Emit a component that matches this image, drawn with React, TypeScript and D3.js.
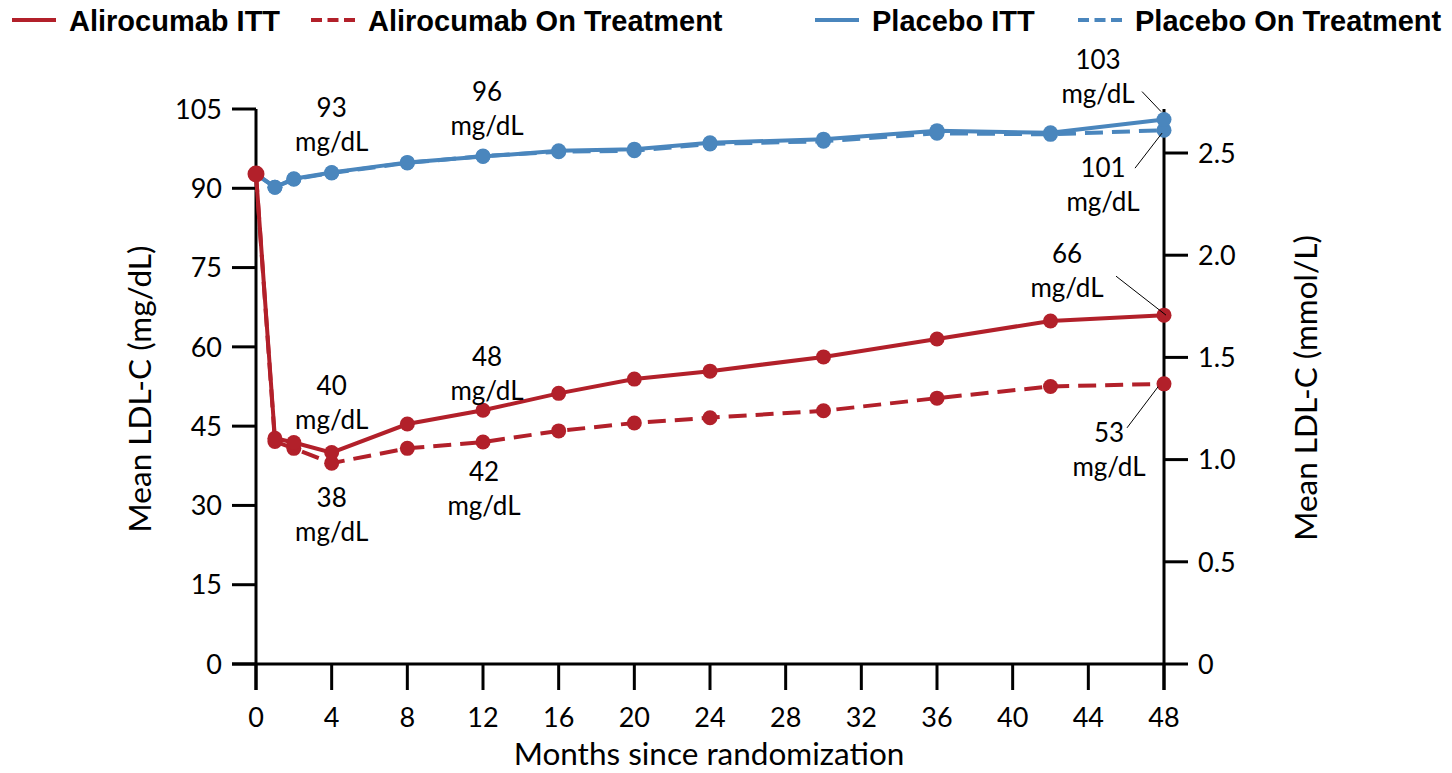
import React from "react";
import * as d3 from "d3";

// Visit months (x) shared by every series
const months = [0, 1, 2, 4, 8, 12, 16, 20, 24, 30, 36, 42, 48];

// Mean LDL-C, mg/dL
const alirocumabITT = [92.7, 42.7, 41.9, 40, 45.4, 48, 51.2, 53.9, 55.4, 58.1, 61.5, 64.9, 66];
const alirocumabOnTreatment = [92.7, 42.1, 40.8, 38, 40.8, 42, 44.1, 45.6, 46.6, 47.9, 50.3, 52.5, 53];
const placeboITT = [92.7, 90.2, 91.8, 93, 94.9, 96, 97.1, 97.4, 98.6, 99.3, 100.9, 100.5, 103];
const placeboOnTreatment = [92.7, 90.2, 91.7, 92.9, 94.8, 96.1, 96.9, 97.1, 98.4, 98.9, 100.4, 100.2, 101];

// Axis ticks
const leftTicks = [0, 15, 30, 45, 60, 75, 90, 105];
const rightTicks = [0, 0.5, 1.0, 1.5, 2.0, 2.5];
const xTicks = [0, 4, 8, 12, 16, 20, 24, 28, 32, 36, 40, 44, 48];

const MG_PER_MMOL = 38.67;

const RED = "#B2202A";
const BLUE = "#4A86BD";

type Series = { key: string; name: string; values: number[]; color: string; dashed: boolean };

const series: Series[] = [
  { key: "pOT", name: "Placebo On Treatment", values: placeboOnTreatment, color: BLUE, dashed: true },
  { key: "pITT", name: "Placebo ITT", values: placeboITT, color: BLUE, dashed: false },
  { key: "aOT", name: "Alirocumab On Treatment", values: alirocumabOnTreatment, color: RED, dashed: true },
  { key: "aITT", name: "Alirocumab ITT", values: alirocumabITT, color: RED, dashed: false },
];

// Value callouts: which point, where the text block sits, optional leader line
type Note = { key: string; i: number; dx: number; dy: number; leader?: [number, number, number, number] };
const notes: Note[] = [
  { key: "pITT", i: 3, dx: 0, dy: -65 },
  { key: "pITT", i: 5, dx: 4, dy: -65 },
  { key: "pITT", i: 12, dx: -66, dy: -60, leader: [-22, -28, -3, -8] },
  { key: "pOT", i: 12, dx: -61, dy: 37, leader: [-29, 38, -2, 3] },
  { key: "aITT", i: 3, dx: 0, dy: -67 },
  { key: "aOT", i: 3, dx: 0, dy: 34 },
  { key: "aITT", i: 5, dx: 4, dy: -54 },
  { key: "aOT", i: 5, dx: 1, dy: 30 },
  { key: "aITT", i: 12, dx: -97, dy: -62, leader: [-48, -39, 2, 0] },
  { key: "aOT", i: 12, dx: -55, dy: 49, leader: [-37, 44, -6, 3] },
];

const legendItems = [
  { name: "Alirocumab ITT", color: RED, dashed: false, x: 12 },
  { name: "Alirocumab On Treatment", color: RED, dashed: true, x: 311 },
  { name: "Placebo ITT", color: BLUE, dashed: false, x: 815 },
  { name: "Placebo On Treatment", color: BLUE, dashed: true, x: 1078 },
];

const W = 1452;
const H = 773;
const FONT = "Lato, 'Open Sans', sans-serif";

export default function App() {
  const x = d3.scaleLinear().domain([0, 48]).range([256, 1164]);
  const y = d3.scaleLinear().domain([0, 105]).range([664, 109]);
  const yR = d3.scaleLinear().domain([0, 105 / MG_PER_MMOL]).range([664, 109]);

  const line = d3
    .line<number>()
    .x((_, i) => x(months[i]))
    .y((v) => y(v));

  const byKey: Record<string, Series> = {};
  series.forEach((s) => (byKey[s.key] = s));

  const tickLen = 24;
  const axisW = 3;

  return (
    <svg
      width={W}
      height={H}
      viewBox={`0 0 ${W} ${H}`}
      style={{ position: "absolute", left: 0, top: 0, background: "#fff" }}
      fontFamily={FONT}
    >
      <rect width={W} height={H} fill="#fff" />

      {/* legend */}
      <g fontFamily="'Liberation Sans', Arial, sans-serif" fontWeight="bold" fontSize={29}>
        {legendItems.map((d) => (
          <g key={d.name}>
            <line
              x1={d.x}
              x2={d.x + 44}
              y1={20}
              y2={20}
              stroke={d.color}
              strokeWidth={4}
              strokeDasharray={d.dashed ? "11,5.5" : undefined}
            />
            <text x={d.x + 57} y={30.5} fill="#000">
              {d.name}
            </text>
          </g>
        ))}
      </g>

      {/* left axis */}
      <g stroke="#000" strokeWidth={axisW}>
        <line x1={256} x2={256} y1={y(105)} y2={664 + 26} />
        {leftTicks.map((t) => (
          <line key={t} x1={256 - tickLen} x2={256} y1={y(t)} y2={y(t)} />
        ))}
      </g>
      <g fontSize={27} textAnchor="end">
        {leftTicks.map((t) => (
          <text key={t} x={222} y={y(t)} dy="0.36em">
            {t}
          </text>
        ))}
      </g>

      {/* bottom axis */}
      <g stroke="#000" strokeWidth={axisW}>
        <line x1={256 - tickLen} x2={x(48)} y1={664} y2={664} />
        {xTicks.map((t) => (
          <line key={t} x1={x(t)} x2={x(t)} y1={664} y2={664 + 26} />
        ))}
      </g>
      <g fontSize={27} textAnchor="middle">
        {xTicks.map((t) => (
          <text key={t} x={x(t)} y={717} dy="0.36em">
            {t}
          </text>
        ))}
      </g>

      {/* right axis */}
      <g stroke="#000" strokeWidth={axisW}>
        <line x1={1164} x2={1164} y1={yR.range()[1]} y2={664 + 26} />
        {rightTicks.map((t) => (
          <line key={t} x1={1164} x2={1164 + tickLen} y1={yR(t)} y2={yR(t)} />
        ))}
      </g>
      <g fontSize={27} textAnchor="start">
        {rightTicks.map((t) => (
          <text key={t} x={1198} y={yR(t)} dy="0.36em">
            {t === 0 ? "0" : d3.format(".1f")(t)}
          </text>
        ))}
      </g>

      {/* axis titles */}
      <text x={709} y={754} dy="0.36em" fontSize={31.5} textAnchor="middle">
        Months since randomization
      </text>
      <text
        transform={`translate(140,389) rotate(-90)`}
        dy="0.36em"
        fontSize={31.5}
        textAnchor="middle"
      >
        Mean LDL-C (mg/dL)
      </text>
      <text
        transform={`translate(1306,388) rotate(-90)`}
        dy="0.36em"
        fontSize={31.5}
        textAnchor="middle"
      >
        Mean LDL-C (mmol/L)
      </text>

      {/* series lines and markers */}
      {series.map((s) => (
        <g key={s.key}>
          <path
            d={line(s.values) || ""}
            fill="none"
            stroke={s.color}
            strokeWidth={4}
            strokeDasharray={s.dashed ? "18,9" : undefined}
          />
          {s.values.map((v, i) => (
            <circle key={i} cx={x(months[i])} cy={y(v)} r={7.5} fill={s.color} />
          ))}
        </g>
      ))}
      {/* shared baseline point */}
      <circle cx={x(months[0])} cy={y(alirocumabITT[0])} r={8.5} fill={RED} />

      {/* value callouts */}
      <g fontSize={26} textAnchor="middle">
        {notes.map((n, k) => {
          const s = byKey[n.key];
          const px = x(months[n.i]);
          const py = y(s.values[n.i]);
          const cx = px + n.dx;
          const cy = py + n.dy;
          return (
            <g key={k}>
              {n.leader && (
                <line
                  x1={px + n.leader[0]}
                  y1={py + n.leader[1]}
                  x2={px + n.leader[2]}
                  y2={py + n.leader[3]}
                  stroke="#000"
                  strokeWidth={1}
                />
              )}
              <text x={cx} y={cy} dy="0.36em">
                {String(s.values[n.i])}
              </text>
              <text x={cx} y={cy + 34} dy="0.36em">
                mg/dL
              </text>
            </g>
          );
        })}
      </g>
    </svg>
  );
}
